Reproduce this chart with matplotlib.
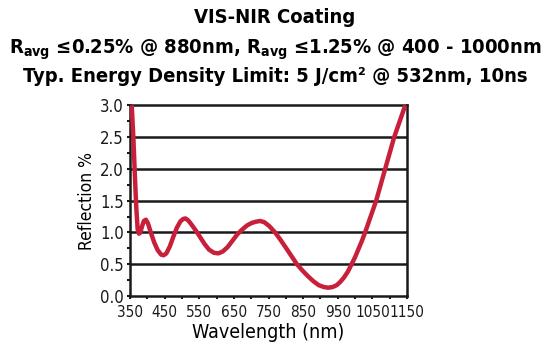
import matplotlib
matplotlib.use('Agg')
import matplotlib.pyplot as plt
from matplotlib import font_manager
from matplotlib.ticker import MultipleLocator

# pick a narrow font if one is there
names = {(f.name, f.stretch) for f in font_manager.fontManager.ttflist}
if any(n == 'Liberation Sans Narrow' for n, s in names):
    fam, stretch, scale = 'Liberation Sans Narrow', 'normal', 1.07
elif any(n == 'DejaVu Sans' and s in ('condensed', 'semi-condensed', 600, 500, 700) for n, s in names):
    fam, stretch, scale = 'DejaVu Sans', 'condensed', 1.0
else:
    fam, stretch, scale = 'DejaVu Sans', 'normal', 0.9

plt.rcParams['font.family'] = [fam, 'DejaVu Sans']
plt.rcParams['font.stretch'] = stretch
plt.rcParams['mathtext.fontset'] = 'custom'
plt.rcParams['mathtext.rm'] = fam + ':bold'
plt.rcParams['mathtext.default'] = 'rm'

# wavelength (nm) / reflection (%)
wl = [355, 360, 364, 368, 372, 376, 380, 385, 390, 396, 402, 410, 420, 430,
      440, 447, 455, 465, 475, 485, 495, 503, 510, 518, 528, 540, 552, 565,
      578, 592, 605, 618, 632, 646, 660, 673, 688, 702, 715, 726, 738, 752,
      769, 785, 800, 816, 832, 848, 864, 880, 895, 910, 922, 935, 947, 957,
      968, 980, 990, 1000, 1010, 1020, 1029, 1045, 1061, 1074, 1087, 1100,
      1113, 1129, 1145]
refl = [3.0, 2.45, 1.9, 1.4, 1.05, 0.98, 1.0, 1.1, 1.18, 1.2, 1.14, 1.0,
        0.84, 0.72, 0.65, 0.64, 0.67, 0.78, 0.93, 1.07, 1.17, 1.21, 1.22,
        1.19, 1.12, 1.03, 0.93, 0.82, 0.73, 0.68, 0.67, 0.7, 0.77, 0.87,
        0.97, 1.04, 1.11, 1.15, 1.17, 1.18, 1.16, 1.1, 1.0, 0.88, 0.76, 0.63,
        0.5, 0.4, 0.31, 0.23, 0.17, 0.14, 0.13, 0.14, 0.17, 0.22, 0.29, 0.39,
        0.5, 0.61, 0.74, 0.87, 1.0, 1.25, 1.5, 1.75, 2.0, 2.25, 2.5, 2.75, 3.0]

xticks = [350, 450, 550, 650, 750, 850, 950, 1050, 1150]
yticks = [0.0, 0.5, 1.0, 1.5, 2.0, 2.5, 3.0]

fig = plt.figure(figsize=(5.5, 3.57), dpi=100)
ax = fig.add_axes([0.2364, 0.171, 0.5036, 0.534])

for y in yticks[1:-1]:
    ax.axhline(y, color='#1a1a1a', lw=1.8, zorder=1)
ax.plot(wl, refl, color='#C8203A', lw=3.2, zorder=3, solid_capstyle='butt')

ax.set_xlim(350, 1150)
ax.set_ylim(0, 3.0)
ax.set_xticks(xticks)
ax.set_yticks(yticks)
ax.set_yticklabels(['%.1f' % v for v in yticks])
ax.xaxis.set_minor_locator(MultipleLocator(50))
ax.yaxis.set_minor_locator(MultipleLocator(0.25))
ax.tick_params(which='both', direction='out', width=1.5, length=2.5,
               labelsize=11 * scale, pad=1, colors='#1a1a1a')
ax.tick_params(axis='y', labelsize=12 * scale, pad=2)
ax.tick_params(axis='x', pad=4)
for s in ax.spines.values():
    s.set_linewidth(1.8)
    s.set_color('#1a1a1a')

ax.set_xlabel('Wavelength (nm)', fontsize=14 * scale, labelpad=2)
ax.set_ylabel('Reflection %', fontsize=12.5 * scale, labelpad=3)

tsize = 14.5 * scale
fig.text(0.5, 0.95, 'VIS-NIR Coating', ha='center', va='center',
         fontsize=tsize, fontweight='bold')
fig.text(0.5, 0.862,
         r'R$_\mathregular{avg}$ ≤0.25% @ 880nm, R$_\mathregular{avg}$ ≤1.25% @ 400 - 1000nm',
         ha='center', va='center', fontsize=tsize, fontweight='bold')
fig.text(0.5, 0.787, 'Typ. Energy Density Limit: 5 J/cm² @ 532nm, 10ns',
         ha='center', va='center', fontsize=tsize, fontweight='bold')

fig.savefig('out.png', dpi=100)
